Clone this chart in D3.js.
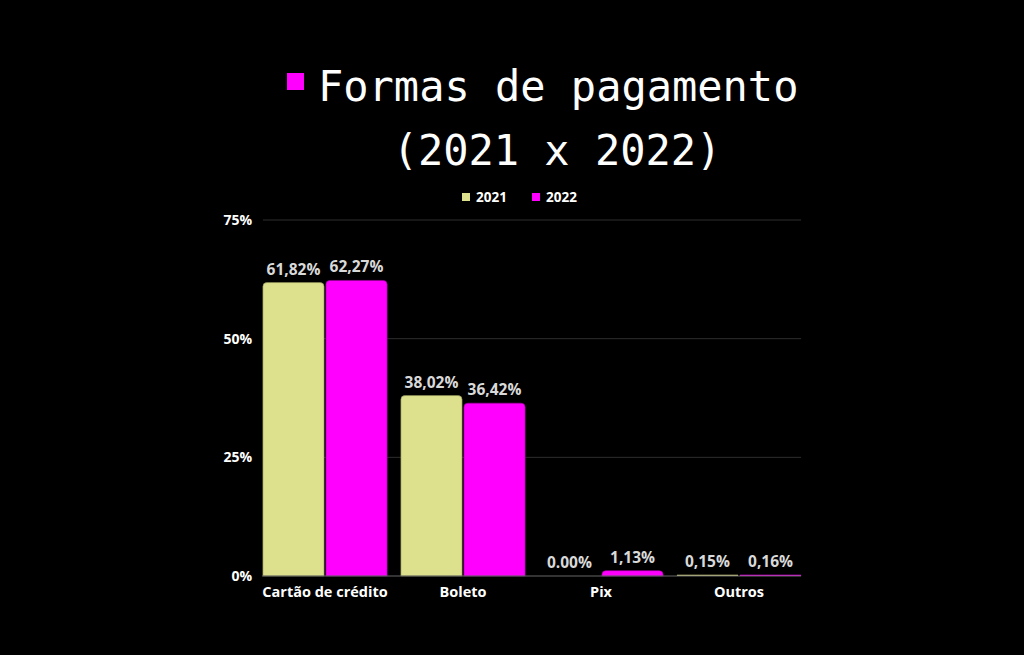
<!DOCTYPE html>
<html>
<head>
<meta charset="utf-8">
<title>Formas de pagamento</title>
<style>
  html, body { margin: 0; padding: 0; background: #000; }
  svg { display: block; }
</style>
</head>
<body>
<svg width="1024" height="655"></svg>
<script src="https://d3js.org/d3.v7.min.js"></script>
<script>

const categories = ["Cartão de crédito", "Boleto", "Pix", "Outros"]
const series = ["2021", "2022"]
const values2021 = [61.82, 38.02, 0.00, 0.15]
const values2022 = [62.27, 36.42, 1.13, 0.16]
const labels2021 = ["61,82%", "38,02%", "0.00%", "0,15%"]
const labels2022 = ["62,27%", "36,42%", "1,13%", "0,16%"]
const yTicks = [0, 25, 50, 75]

const colors = { "2021": "#dde08c", "2022": "#ff00ff" }
const strokes = { "2021": "#8c8e55", "2022": "#a000a0" }

const svg = d3.select("svg")
const font = "'Open Sans', sans-serif"
const mono = "'DejaVu Sans Mono', 'Liberation Mono', monospace"

// title
svg.append("rect")
    .attr("x", 287).attr("y", 73).attr("width", 17).attr("height", 17)
    .attr("fill", "#ff00ff")
svg.append("text")
    .attr("x", 318).attr("y", 101)
    .attr("font-family", mono).attr("font-size", 42)
    .attr("fill", "#fff")
    .text("Formas de pagamento")
svg.append("text")
    .attr("x", 557).attr("y", 165)
    .attr("text-anchor", "middle")
    .attr("font-family", mono).attr("font-size", 42)
    .attr("fill", "#fff")
    .text("(2021 x 2022)")

// legend
const legend = svg.append("g")
    .attr("font-family", font).attr("font-size", 13.5).attr("font-weight", 700)
const legX = [462, 532]
series.forEach((s, i) => {
  legend.append("rect")
      .attr("x", legX[i]).attr("y", 193).attr("width", 8).attr("height", 8)
      .attr("fill", colors[s])
  legend.append("text")
      .attr("x", legX[i] + 14).attr("y", 202)
      .attr("fill", "#fff")
      .text(s)
})

const x = d3.scaleBand()
    .domain(categories)
    .range([256, 808])
    .paddingInner(0.1)
    .paddingOuter(0.05)

const xs = d3.scaleBand()
    .domain(series)
    .range([0, x.bandwidth()])
    .paddingInner(0.03)

const y = d3.scaleLinear()
    .domain([0, 75])
    .range([576, 220])

// grid
const plotL = x(categories[0]), plotR = x(categories[3]) + x.bandwidth()
svg.append("g")
  .selectAll("line")
  .data(yTicks.filter(d => d > 0))
  .join("line")
    .attr("x1", plotL).attr("x2", plotR)
    .attr("y1", d => y(d)).attr("y2", d => y(d))
    .attr("stroke", "#2e2e2e").attr("stroke-width", 1)

// y axis labels
svg.append("g")
    .attr("font-family", font).attr("font-size", 14).attr("font-weight", 700)
  .selectAll("text")
  .data(yTicks)
  .join("text")
    .attr("x", 252)
    .attr("y", d => y(d) + 5)
    .attr("text-anchor", "end")
    .attr("fill", "#fff")
    .text(d => d + "%")

function barPath(x0, w, top, bottom) {
  const h = bottom - top
  const r = Math.min(4, h, w / 2)
  return `M${x0},${bottom}V${top + r}Q${x0},${top} ${x0 + r},${top}H${x0 + w - r}Q${x0 + w},${top} ${x0 + w},${top + r}V${bottom}Z`
}

const rows = categories.map((c, i) => ({
  cat: c,
  vals: [
    { s: "2021", v: values2021[i], label: labels2021[i] },
    { s: "2022", v: values2022[i], label: labels2022[i] }
  ]
}))

const groups = svg.append("g")
  .selectAll("g")
  .data(rows)
  .join("g")
    .attr("transform", d => `translate(${x(d.cat)},0)`)

groups.selectAll("path")
  .data(d => d.vals.filter(v => v.v > 0))
  .join("path")
    .attr("d", d => d.v < 0.5
        ? `M${xs(d.s)},${y(0)}h${xs.bandwidth()}v${-Math.max(1.2, y(0) - y(d.v))}h${-xs.bandwidth()}Z`
        : barPath(xs(d.s), xs.bandwidth(), y(d.v), y(0)))
    .attr("fill", d => colors[d.s])
    .attr("stroke", d => d.v < 0.5 ? "none" : strokes[d.s])
    .attr("stroke-width", 0.6)

groups.selectAll("text")
  .data(d => d.vals)
  .join("text")
    .attr("x", d => xs(d.s) + xs.bandwidth() / 2)
    .attr("y", d => y(d.v) - 8)
    .attr("text-anchor", "middle")
    .attr("font-family", font).attr("font-size", 15.5).attr("font-weight", 700)
    .attr("fill", "#d9d9d9")
    .text(d => d.label)

// baseline
svg.append("line")
    .attr("x1", plotL - 1).attr("x2", plotR)
    .attr("y1", y(0)).attr("y2", y(0))
    .attr("stroke", "#666").attr("stroke-width", 1)

// x labels
svg.append("g")
    .attr("font-family", font).attr("font-size", 14.5).attr("font-weight", 700)
  .selectAll("text")
  .data(categories)
  .join("text")
    .attr("x", d => x(d) + x.bandwidth() / 2)
    .attr("y", 597)
    .attr("text-anchor", "middle")
    .attr("fill", "#fff")
    .text(d => d)

</script>
</body>
</html>
